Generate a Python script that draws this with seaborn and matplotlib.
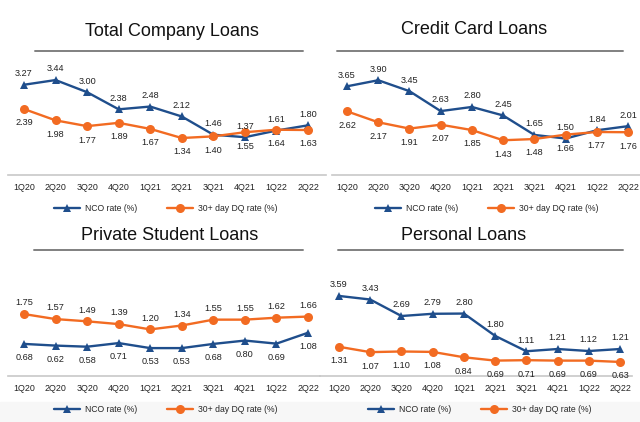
import numpy as np
import pandas as pd
import matplotlib
matplotlib.use("Agg")
import matplotlib.pyplot as plt
import seaborn as sns
from matplotlib.lines import Line2D
from matplotlib.patches import Rectangle

sns.set_style("white")
plt.rcParams["font.family"] = ["Liberation Sans", "DejaVu Sans"]

# data
quarters = ["1Q20", "2Q20", "3Q20", "4Q20", "1Q21", "2Q21", "3Q21", "4Q21", "1Q22", "2Q22"]

total_nco = [3.27, 3.44, 3.00, 2.38, 2.48, 2.12, 1.46, 1.37, 1.61, 1.80]
total_dq = [2.39, 1.98, 1.77, 1.89, 1.67, 1.34, 1.40, 1.55, 1.64, 1.63]

card_nco = [3.65, 3.90, 3.45, 2.63, 2.80, 2.45, 1.65, 1.50, 1.84, 2.01]
card_dq = [2.62, 2.17, 1.91, 2.07, 1.85, 1.43, 1.48, 1.66, 1.77, 1.76]

student_nco = [0.68, 0.62, 0.58, 0.71, 0.53, 0.53, 0.68, 0.80, 0.69, 1.08]
student_dq = [1.75, 1.57, 1.49, 1.39, 1.20, 1.34, 1.55, 1.55, 1.62, 1.66]

personal_nco = [3.59, 3.43, 2.69, 2.79, 2.80, 1.80, 1.11, 1.21, 1.12, 1.21]
personal_dq = [1.31, 1.07, 1.10, 1.08, 0.84, 0.69, 0.71, 0.69, 0.69, 0.63]

titles = ["Total Company Loans", "Credit Card Loans", "Private Student Loans", "Personal Loans"]
nco_label = "NCO rate (%)"
dq_label = "30+ day DQ rate (%)"

BLUE = "#1f4e8c"
ORANGE = "#f26b22"
W, H = 640, 422

fig = plt.figure(figsize=(6.4, 4.22), dpi=100)

# faint gray band at the bottom
fig.patches.append(Rectangle((0, 0), 1, 20 / H, transform=fig.transFigure,
                             color="#f7f7f7", zorder=-1))

# panel layout in pixels
panels = [
    dict(nco=total_nco, dq=total_dq, x0=8, x1=326, base=175, top=55, first=24, last=308,
         ylim=(0, 120 / 27.6), tx=172, ty=32, ul=(35, 303, 51), lx=166, ly=209, nco_up=True),
    dict(nco=card_nco, dq=card_dq, x0=332, x1=640, base=175, top=55, first=347, last=628,
         ylim=(0, 120 / 24.3), tx=474, ty=30, ul=(337, 623, 51), lx=487, ly=209, nco_up=True),
    dict(nco=student_nco, dq=student_dq, x0=8, x1=320, base=376, top=256, first=24, last=308,
         ylim=(-0.47, -0.47 + 120 / 27.9), tx=170, ty=236, ul=(34, 303, 250), lx=166, ly=410, nco_up=False),
    dict(nco=personal_nco, dq=personal_dq, x0=320, x1=632, base=376, top=256, first=339, last=620,
         ylim=(0, 120 / 22.3), tx=464, ty=235, ul=(338, 623, 250), lx=480, ly=410, nco_up=True),
]

for p, title in zip(panels, titles):
    ax = fig.add_axes([p["x0"] / W, (H - p["base"]) / H,
                       (p["x1"] - p["x0"]) / W, (p["base"] - p["top"]) / H])
    step = (p["last"] - p["first"]) / 9
    ax.set_xlim(-(p["first"] - p["x0"]) / step, 9 + (p["x1"] - p["last"]) / step)
    ax.set_ylim(*p["ylim"])

    df = pd.DataFrame({"x": np.arange(len(quarters)), "nco": p["nco"], "dq": p["dq"]})
    sns.lineplot(data=df, x="x", y="nco", ax=ax, color=BLUE, lw=1.7, marker="^",
                 markersize=6, markeredgewidth=0, label=nco_label)
    sns.lineplot(data=df, x="x", y="dq", ax=ax, color=ORANGE, lw=1.7, marker="o",
                 markersize=6.5, markeredgewidth=0, label=dq_label)

    # data labels
    for i in range(len(quarters)):
        up = 8 if p["nco_up"] else -10
        ax.annotate(f"{p['nco'][i]:.2f}", (i, p["nco"][i]), xytext=(0, up),
                    textcoords="offset points", ha="center", va="center",
                    fontsize=6.6, color="#222222")
        ax.annotate(f"{p['dq'][i]:.2f}", (i, p["dq"][i]), xytext=(0, -up - 2 if p["nco_up"] else 8),
                    textcoords="offset points", ha="center", va="center",
                    fontsize=6.6, color="#222222")

    ax.set_xticks(range(len(quarters)))
    ax.set_xticklabels(quarters, fontsize=6.4, color="#222222")
    ax.tick_params(axis="x", length=0, pad=6)
    ax.set_yticks([])
    ax.set_xlabel("")
    ax.set_ylabel("")
    for s in ["top", "left", "right"]:
        ax.spines[s].set_visible(False)
    ax.spines["bottom"].set_color("#c8c8c8")
    ax.spines["bottom"].set_linewidth(1.2)
    ax.patch.set_alpha(0)

    # legend below the axis
    ax.legend(loc="center", bbox_to_anchor=(p["lx"] / W, (H - p["ly"]) / H),
              bbox_transform=fig.transFigure, ncol=2, frameon=False,
              fontsize=6.2, handlelength=3.0, columnspacing=3.5, handletextpad=0.6)

    # title with gray underline
    fig.text(p["tx"] / W, (H - p["ty"]) / H, title, ha="center", va="center",
             fontsize=13, color="#111111")
    ux0, ux1, uy = p["ul"]
    fig.add_artist(Line2D([ux0 / W, ux1 / W], [(H - uy) / H, (H - uy) / H],
                          transform=fig.transFigure, color="#808080", lw=1.4))

fig.savefig("out.png", dpi=100)
